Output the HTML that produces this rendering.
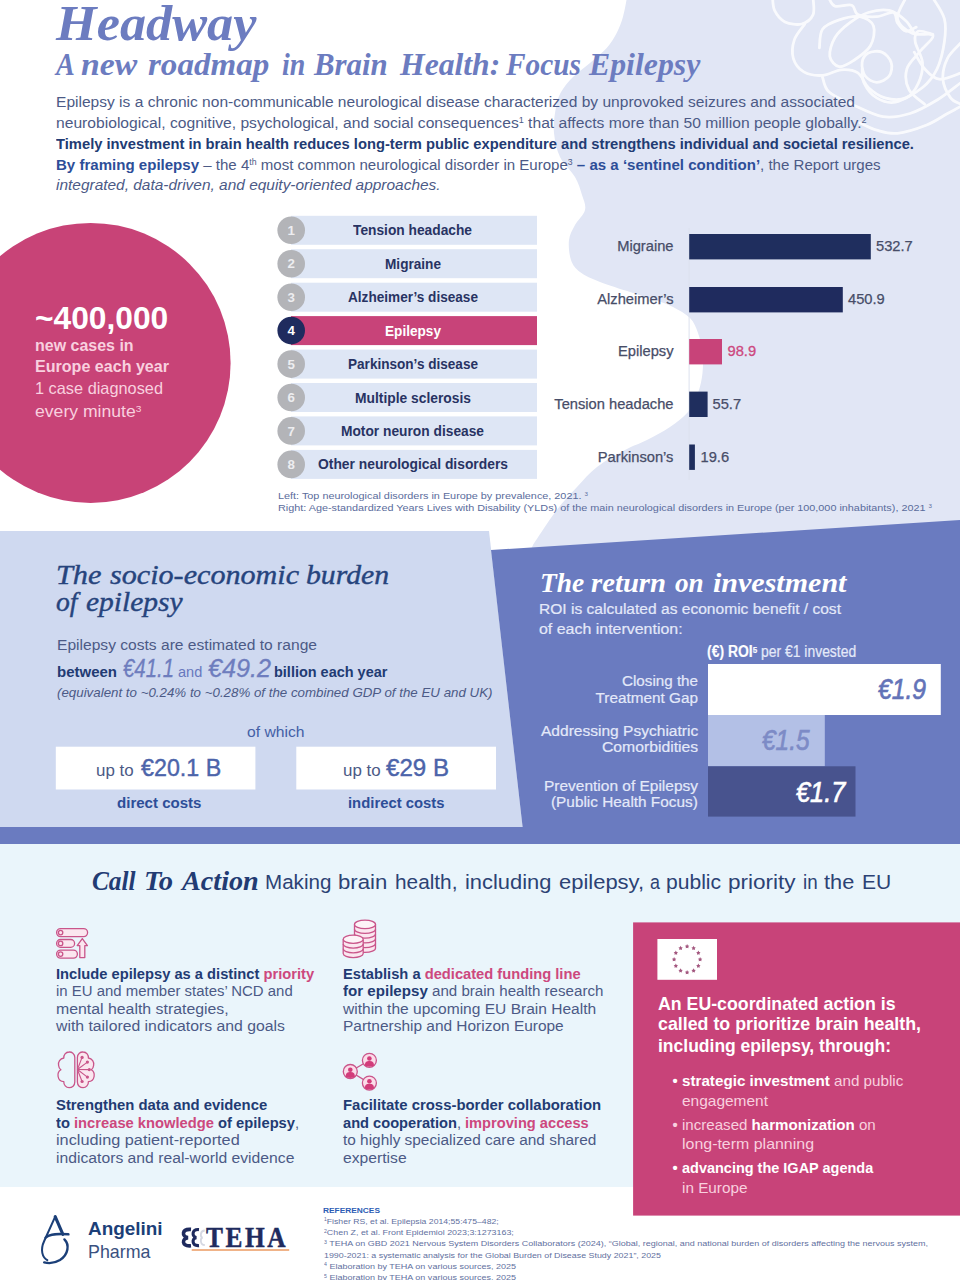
<!DOCTYPE html>
<html lang="en"><head><meta charset="utf-8"><title>Headway - A new roadmap in Brain Health: Focus Epilepsy</title>
<style>
html,body{margin:0;padding:0;background:#fff}
body{width:960px;height:1280px;position:relative;overflow:hidden;font-family:"Liberation Sans",sans-serif;color:#4c5a86}
#bg{position:absolute;left:0;top:0}
.t{position:absolute;white-space:nowrap;line-height:1;transform-origin:0 0;font-family:"Liberation Sans",sans-serif}
.ff{font-family:"Liberation Serif",serif;font-style:italic}
b{font-weight:bold}
.n{color:#223b73}          /* navy bold */
.bl{color:#2d4e98}         /* blue bold */
.p{color:#cd487e}          /* pink */
.w{color:#fff}
.lp{color:#f8d0df}         /* light pink on pink */
.lv{color:#e4e9f9;-webkit-text-stroke:0.2px #e4e9f9}         /* light lavender on blue */
.h{color:#6c7cc0}          /* heading blue */
.m{color:#6878be}
sup{font-size:58%;vertical-align:baseline;position:relative;top:-0.5em;line-height:0}
i{font-style:italic}

.n2{color:#283363}
.g{color:#ededf0}
.cap{color:#5a6c9c}
.ch{color:#474d68;-webkit-text-stroke:0.25px #474d68}
.big{-webkit-text-stroke:0.3px #6e7dbe;color:#6e7dbe}
.big2{color:#4c64aa;-webkit-text-stroke:0.4px #4c64aa}
.bl2{color:#4460a6}
.hs{-webkit-text-stroke:0.4px #26447d;color:#26447d}
.sb2{-webkit-text-stroke:0.3px currentColor}
.sb{-webkit-text-stroke:0.7px currentColor}
.r1{color:#6373b8}
.r2{color:#7d8bc6}
.cta{color:#2c4274}
.ang{color:#1c3f78}
.ang2{color:#3a5180}
.teha{color:#1f2b5e;font-style:normal;letter-spacing:3px;-webkit-text-stroke:0.5px #1f2b5e}
.ref{color:#5f70a0}
.ref.bl{color:#2c5cb4}
</style></head><body>
<svg id="bg" width="960" height="1280" viewBox="0 0 960 1280">
<path d="M627.0,-6.0 C626.9,-5.0 627.2,-3.8 626.5,0.0 C625.8,3.8 624.6,11.2 623.0,16.7 C621.4,22.2 619.4,27.8 616.7,33.0 C614.0,38.2 611.2,43.0 606.7,48.0 C602.2,53.0 595.6,58.2 590.0,63.0 C584.4,67.8 577.9,72.0 573.0,77.0 C568.1,82.0 563.4,87.5 560.5,93.0 C557.6,98.5 556.6,103.3 555.5,110.0 C554.4,116.7 553.2,125.2 554.0,133.0 C554.8,140.8 556.5,149.7 560.0,157.0 C563.5,164.3 571.3,170.7 575.0,177.0 C578.7,183.3 580.3,189.5 582.0,195.0 C583.7,200.5 586.2,205.0 585.0,210.0 C583.8,215.0 577.7,220.0 575.0,225.0 C572.3,230.0 569.7,234.2 569.0,240.0 C568.3,245.8 569.2,254.7 571.0,260.0 C572.8,265.3 575.2,268.3 580.0,272.0 C584.8,275.7 591.7,278.7 600.0,282.0 C608.3,285.3 620.8,289.0 630.0,292.0 C639.2,295.0 647.8,297.5 655.0,300.0 C662.2,302.5 667.2,304.0 673.0,307.0 C678.8,310.0 685.8,313.7 690.0,318.0 C694.2,322.3 695.9,327.3 698.0,333.0 C700.1,338.7 701.8,345.3 702.5,352.0 C703.2,358.7 703.2,366.2 702.5,373.0 C701.8,379.8 700.4,386.5 698.0,393.0 C695.6,399.5 692.7,406.3 688.0,412.0 C683.3,417.7 676.8,422.3 670.0,427.0 C663.2,431.7 654.5,436.2 647.0,440.0 C639.5,443.8 633.3,445.5 625.0,450.0 C616.7,454.5 605.0,460.8 597.0,467.0 C589.0,473.2 583.8,479.7 577.0,487.0 C570.2,494.3 563.3,501.3 556.0,511.0 C548.7,520.7 536.8,539.3 533.0,545.0  L528,556 L960,556 L960,-6 Z" fill="#e1e6f5"/>
<g fill="none" stroke="#fff" stroke-width="2.8" stroke-linecap="round" opacity="0.82"><path d="M772.5,-4.2 C772.8,-1.7 772.5,6.1 774.6,10.4 C776.7,14.8 780.5,19.6 785.0,21.9 C789.5,24.1 797.0,25.2 801.7,24.0 C806.4,22.7 811.2,18.9 813.1,14.6 C815.0,10.2 813.1,0.7 813.1,-2.1 "/><path d="M804.8,24.0 C803.1,26.6 796.3,33.9 794.4,39.6 C792.5,45.3 791.8,53.0 793.3,58.3 C794.9,63.7 798.9,69.0 803.8,71.9 C808.6,74.7 816.2,75.8 822.5,75.4 C828.8,75.1 835.3,70.2 841.2,69.8 C847.2,69.4 853.4,70.0 857.9,72.9 C862.4,75.9 863.8,83.3 868.3,87.5 C872.8,91.7 878.8,96.2 885.0,97.9 C891.2,99.7 900.3,100.3 905.8,97.9 C911.4,95.5 915.6,89.2 918.3,83.3 C921.1,77.4 923.0,69.4 922.5,62.5 C922.0,55.6 915.9,46.9 915.2,41.7 C914.5,36.5 915.4,32.5 918.3,31.2 C921.3,30.0 930.5,33.9 932.9,34.4 "/><path d="M819.4,47.9 C819.9,44.8 819.2,33.9 822.5,29.2 C825.8,24.5 832.9,21.9 839.2,19.8 C845.4,17.7 854.3,15.6 860.0,16.7 C865.7,17.7 871.8,21.2 873.5,26.0 C875.3,30.9 873.7,40.1 870.4,45.8 C867.1,51.6 859.0,56.9 853.8,60.4 C848.5,63.9 843.2,67.4 839.2,66.7 C835.2,66.0 830.5,61.1 829.8,56.2 C829.1,51.4 831.7,43.1 835.0,37.5 C838.3,31.9 844.0,27.1 849.6,22.9 C855.1,18.8 861.7,14.6 868.3,12.5 C874.9,10.4 882.9,9.0 889.2,10.4 C895.4,11.8 901.7,17.0 905.8,20.8 C910.0,24.7 912.8,31.3 914.2,33.3 "/><path d="M862.1,62.5 C862.6,58.7 865.0,54.9 868.3,53.1 C871.6,51.4 878.1,50.5 881.9,52.1 C885.7,53.6 890.0,58.5 891.2,62.5 C892.5,66.5 891.6,72.7 889.2,76.0 C886.7,79.3 880.7,82.3 876.7,82.3 C872.7,82.3 867.6,79.3 865.2,76.0 C862.8,72.7 861.6,66.3 862.1,62.5 "/><path d="M822.5,77.1 C823.5,79.5 823.9,87.2 828.8,91.7 C833.6,96.2 842.6,100.0 851.7,104.2 C860.7,108.3 873.2,115.1 882.9,116.7 C892.6,118.2 901.0,116.3 910.0,113.5 C919.0,110.8 928.8,105.0 937.1,100.0 C945.4,95.0 956.2,86.1 960.0,83.3 "/><path d="M860.0,122.9 C862.8,124.1 870.4,128.5 876.7,130.2 C882.9,131.9 889.2,134.2 897.5,133.3 C905.8,132.5 918.3,128.3 926.7,125.0 C935.0,121.7 941.8,116.7 947.5,113.5 C953.2,110.4 958.8,107.5 961.0,106.2 "/><path d="M905.8,-2.1 C904.4,1.4 896.5,12.8 897.5,18.8 C898.5,24.7 906.2,30.6 912.1,33.3 C918.0,36.1 931.5,32.5 932.9,35.4 C934.3,38.4 924.8,45.5 920.4,51.0 C916.1,56.6 908.8,62.3 906.9,68.8 C905.0,75.2 906.0,83.7 909.0,89.6 C911.9,95.5 922.0,101.7 924.6,104.2 "/><path d="M932.9,-2.1 C934.8,1.4 942.5,11.5 944.4,18.8 C946.3,26.0 945.6,33.3 944.4,41.7 C943.2,50.0 940.7,61.1 937.1,68.8 C933.4,76.4 929.4,81.9 922.5,87.5 C915.6,93.1 903.1,100.3 895.4,102.1 C887.8,103.8 881.9,101.0 876.7,97.9 C871.5,94.8 866.6,88.2 864.2,83.3 C861.7,78.5 862.4,71.2 862.1,68.8 "/><path d="M961.0,42.7 C958.8,45.3 950.5,52.3 947.5,58.3 C944.5,64.4 942.4,72.6 942.9,79.2 C943.4,85.8 947.6,93.8 950.6,97.9 C953.6,102.1 959.3,103.1 961.0,104.2 "/><path d="M828.8,-2.1 C829.8,-0.7 831.2,5.0 835.0,6.2 C838.8,7.5 847.8,3.8 851.7,5.2 C855.5,6.6 853.8,12.7 857.9,14.6 C862.1,16.5 870.8,17.0 876.7,16.7 C882.6,16.3 889.9,11.5 893.3,12.5 C896.8,13.5 895.4,19.8 897.5,22.9 C899.6,26.0 902.7,30.6 905.8,31.2 C909.0,31.9 914.5,27.8 916.2,27.1 "/><path d="M914.2,52.1 C915.9,54.9 920.4,64.2 924.6,68.8 C928.8,73.3 933.1,78.5 939.2,79.2 C945.2,79.9 957.4,74.0 961.0,72.9 "/></g>
<polygon points="0,531 489,531 522.6,827 0,827" fill="#cfd9f0"/>
<polygon points="491,550 960,520 960,844 0,844 0,827 522.6,827" fill="#6a7bc0"/>
<rect x="0" y="844" width="960" height="343" fill="#eaf5fb"/>
<circle cx="90.6" cy="362.9" r="140" fill="#c84377"/>
<rect x="291" y="215.8" width="246" height="29" fill="#dee6f5"/><circle cx="291.2" cy="230.3" r="13.8" fill="#b3b4b8"/><rect x="291" y="249.2" width="246" height="29" fill="#dee6f5"/><circle cx="291.2" cy="263.7" r="13.8" fill="#b3b4b8"/><rect x="291" y="282.7" width="246" height="29" fill="#dee6f5"/><circle cx="291.2" cy="297.2" r="13.8" fill="#b3b4b8"/><rect x="291" y="316.1" width="246" height="29" fill="#c84379"/><circle cx="291.2" cy="330.6" r="13.8" fill="#1f2b5e"/><rect x="291" y="349.6" width="246" height="29" fill="#dee6f5"/><circle cx="291.2" cy="364.1" r="13.8" fill="#b3b4b8"/><rect x="291" y="383.0" width="246" height="29" fill="#dee6f5"/><circle cx="291.2" cy="397.5" r="13.8" fill="#b3b4b8"/><rect x="291" y="416.4" width="246" height="29" fill="#dee6f5"/><circle cx="291.2" cy="430.9" r="13.8" fill="#b3b4b8"/><rect x="291" y="449.9" width="246" height="29" fill="#dee6f5"/><circle cx="291.2" cy="464.4" r="13.8" fill="#b3b4b8"/>
<rect x="688.6" y="228" width="1" height="252" fill="#dde1ee"/><rect x="689.2" y="234" width="181.6" height="25.4" fill="#1f2e5e"/><rect x="689.2" y="287" width="153.6" height="25.4" fill="#1f2b5e"/><rect x="689.2" y="339" width="32.8" height="25.4" fill="#c84379"/><rect x="689.2" y="391.6" width="18.4" height="25.4" fill="#1f2e5e"/><rect x="689.2" y="444.5" width="5.7" height="25.4" fill="#1f2e5e"/>
<rect x="55.8" y="746.7" width="199.6" height="42.8" fill="#fff"/>
<rect x="296.3" y="746.7" width="199.7" height="42.8" fill="#fff"/>
<rect x="708" y="664" width="232.8" height="51" fill="#fff"/>
<rect x="708" y="715" width="116.8" height="51.3" fill="#b3c0e6"/>
<rect x="708" y="766.3" width="147.5" height="50.3" fill="#48538e"/>
<rect x="633.1" y="922.4" width="326.9" height="293.2" fill="#c84379"/>
<rect x="657.4" y="939" width="59.6" height="40.8" fill="#fff"/>
<g fill="#fbe6ef" stroke="#c9558a" stroke-width="1.3" stroke-linejoin="round"><rect x="56.6" y="928.6" width="31" height="8" rx="4"/><rect x="56.6" y="939.5" width="18" height="7.8" rx="3.9"/><rect x="56.6" y="950.1" width="20.8" height="8" rx="4"/><circle cx="60.6" cy="932.6" r="2.2" fill="none"/><circle cx="60.6" cy="943.4" r="2.2" fill="none"/><circle cx="60.6" cy="954.1" r="2.2" fill="none"/><path d="M82.3,938.6 L87.4,945.6 L84.8,945.6 L84.8,957.6 L79.8,957.6 L79.8,945.6 L77.2,945.6 Z"/></g><g fill="#fbe6ef" stroke="#c9558a" stroke-width="1.3"><path d="M354.5,924.4 L354.5,948.25 A10.5,4.2 0 0 0 375.5,948.25 L375.5,924.4"/><path d="M354.5,929.17 A10.5,4.2 0 0 0 375.5,929.17" fill="none"/><path d="M354.5,933.9399999999999 A10.5,4.2 0 0 0 375.5,933.9399999999999" fill="none"/><path d="M354.5,938.7099999999999 A10.5,4.2 0 0 0 375.5,938.7099999999999" fill="none"/><path d="M354.5,943.48 A10.5,4.2 0 0 0 375.5,943.48" fill="none"/><ellipse cx="365.0" cy="924.4" rx="10.5" ry="4.2" fill="#fdf3f7"/><path d="M343.2,939.2 L343.2,953.51 A10.0,4.1 0 0 0 363.2,953.51 L363.2,939.2"/><path d="M343.2,943.97 A10.0,4.1 0 0 0 363.2,943.97" fill="none"/><path d="M343.2,948.74 A10.0,4.1 0 0 0 363.2,948.74" fill="none"/><ellipse cx="353.2" cy="939.2" rx="10.0" ry="4.1" fill="#fdf3f7"/></g><g fill="none" stroke="#c9558a" stroke-width="1.3" stroke-linejoin="round"><path d="M74.8,1057.5 C74.8,1053.5 71.6,1051.8 69.1,1052 C65.6,1052 63.599999999999994,1055 63.8,1058 C60.099999999999994,1058.5 57.8,1062 58.599999999999994,1065.5 C58.8,1067.5 59.8,1069 60.89999999999999,1069.8 C58.8,1071 57.599999999999994,1073.5 58.099999999999994,1076.5 C58.599999999999994,1079.5 61.099999999999994,1081.5 63.8,1081.6 C63.599999999999994,1085 66.1,1087.7 69.1,1087.7 C72.1,1087.7 74.8,1085.5 74.8,1082 Z" fill="none"/><path d="M77.39999999999999,1057.5 C77.39999999999999,1053.5 80.6,1051.8 83.1,1052 C86.6,1052 88.6,1055 88.39999999999999,1058 C92.1,1058.5 94.39999999999999,1062 93.6,1065.5 C93.39999999999999,1067.5 92.39999999999999,1069 91.3,1069.8 C93.39999999999999,1071 94.6,1073.5 94.1,1076.5 C93.6,1079.5 91.1,1081.5 88.39999999999999,1081.6 C88.6,1085 86.1,1087.7 83.1,1087.7 C80.1,1087.7 77.39999999999999,1085.5 77.39999999999999,1082 Z" fill="#fbe6ef"/><path d="M77.4,1069.5 L82.1,1057.4" stroke-width="1.1"/><path d="M77.4,1069.5 L87.4,1062.1" stroke-width="1.1"/><path d="M77.4,1069.5 L89.3,1069.6" stroke-width="1.1"/><path d="M77.4,1069.5 L87.4,1077.1" stroke-width="1.1"/><path d="M77.4,1069.5 L82.1,1081.5" stroke-width="1.1"/></g><g fill="#c9558a"><circle cx="82.1" cy="1057.4" r="1.6"/><circle cx="87.4" cy="1062.1" r="1.6"/><circle cx="89.3" cy="1069.6" r="1.6"/><circle cx="87.4" cy="1077.1" r="1.6"/><circle cx="82.1" cy="1081.5" r="1.6"/></g><g stroke="#c9558a" stroke-width="1.3" fill="none"><path d="M350.3,1071.5 L369.4,1060.3 M350.3,1071.5 L369.4,1083.1"/></g><circle cx="369.4" cy="1060.3" r="7" fill="#fbdce9" stroke="#c9558a" stroke-width="1.3"/><circle cx="369.4" cy="1058.5" r="2.3" fill="#d23c7a"/><path d="M364.79999999999995,1065.5 C364.79999999999995,1061.3 367.4,1060.8999999999999 369.4,1060.8999999999999 C371.4,1060.8999999999999 374.0,1061.3 374.0,1065.5 C371.9,1067.1 366.9,1067.1 364.79999999999995,1065.5 Z" fill="#d23c7a"/><circle cx="350.3" cy="1071.5" r="7" fill="#fbdce9" stroke="#c9558a" stroke-width="1.3"/><circle cx="350.3" cy="1069.7" r="2.3" fill="#d23c7a"/><path d="M345.7,1076.7 C345.7,1072.5 348.3,1072.1 350.3,1072.1 C352.3,1072.1 354.90000000000003,1072.5 354.90000000000003,1076.7 C352.8,1078.3 347.8,1078.3 345.7,1076.7 Z" fill="#d23c7a"/><circle cx="369.4" cy="1083.1" r="7" fill="#fbdce9" stroke="#c9558a" stroke-width="1.3"/><circle cx="369.4" cy="1081.3" r="2.3" fill="#d23c7a"/><path d="M364.79999999999995,1088.3 C364.79999999999995,1084.1 367.4,1083.6999999999998 369.4,1083.6999999999998 C371.4,1083.6999999999998 374.0,1084.1 374.0,1088.3 C371.9,1089.8999999999999 366.9,1089.8999999999999 364.79999999999995,1088.3 Z" fill="#d23c7a"/><g fill="#a3577f"><polygon points="687.10,944.10 687.83,945.39 689.29,945.69 688.29,946.79 688.45,948.26 687.10,947.65 685.75,948.26 685.91,946.79 684.91,945.69 686.37,945.39"/><polygon points="693.60,945.84 694.33,947.13 695.79,947.43 694.79,948.53 694.95,950.00 693.60,949.39 692.25,950.00 692.41,948.53 691.41,947.43 692.87,947.13"/><polygon points="698.36,950.60 699.09,951.89 700.55,952.19 699.55,953.29 699.71,954.76 698.36,954.15 697.01,954.76 697.17,953.29 696.17,952.19 697.62,951.89"/><polygon points="700.10,957.10 700.83,958.39 702.29,958.69 701.29,959.79 701.45,961.26 700.10,960.65 698.75,961.26 698.91,959.79 697.91,958.69 699.37,958.39"/><polygon points="698.36,963.60 699.09,964.89 700.55,965.19 699.55,966.29 699.71,967.76 698.36,967.15 697.01,967.76 697.17,966.29 696.17,965.19 697.62,964.89"/><polygon points="693.60,968.36 694.33,969.65 695.79,969.95 694.79,971.04 694.95,972.52 693.60,971.91 692.25,972.52 692.41,971.04 691.41,969.95 692.87,969.65"/><polygon points="687.10,970.10 687.83,971.39 689.29,971.69 688.29,972.79 688.45,974.26 687.10,973.65 685.75,974.26 685.91,972.79 684.91,971.69 686.37,971.39"/><polygon points="680.60,968.36 681.33,969.65 682.79,969.95 681.79,971.04 681.95,972.52 680.60,971.91 679.25,972.52 679.41,971.04 678.41,969.95 679.87,969.65"/><polygon points="675.84,963.60 676.58,964.89 678.03,965.19 677.03,966.29 677.19,967.76 675.84,967.15 674.49,967.76 674.65,966.29 673.65,965.19 675.11,964.89"/><polygon points="674.10,957.10 674.83,958.39 676.29,958.69 675.29,959.79 675.45,961.26 674.10,960.65 672.75,961.26 672.91,959.79 671.91,958.69 673.37,958.39"/><polygon points="675.84,950.60 676.58,951.89 678.03,952.19 677.03,953.29 677.19,954.76 675.84,954.15 674.49,954.76 674.65,953.29 673.65,952.19 675.11,951.89"/><polygon points="680.60,945.84 681.33,947.13 682.79,947.43 681.79,948.53 681.95,950.00 680.60,949.39 679.25,950.00 679.41,948.53 678.41,947.43 679.87,947.13"/></g><g fill="none" stroke="#1b3f78" stroke-linecap="round" stroke-linejoin="round"><path d="M55.2,1216.6 L62.9,1234.4" stroke-width="3.1"/><path d="M55.2,1216.6 L44.2,1241 C40,1250 42.3,1257.3 47.3,1260.2" stroke-width="2"/><path d="M45.6,1237.6 C50.5,1233.6 58,1233.6 68.4,1234.3" stroke-width="2.5"/><path d="M64.4,1239.4 C69.6,1244.5 68.6,1254.5 60,1260 C54.5,1263.3 48.5,1263.6 44.2,1262.4" stroke-width="2.4"/></g><g fill="none" stroke="#1f2b5e" stroke-linecap="butt"><path d="M191,1229.4 C181.5,1228.6 181.5,1236.8 188,1237.6 C181.5,1238.4 181.5,1246.6 191,1245.8" stroke-width="3.6"/><path d="M199,1229.6 C191.6,1229 191.6,1236.9 196.4,1237.6 C191.6,1238.3 191.6,1246.2 199,1245.6" stroke-width="3.1"/><path d="M204.8,1230.5 C200,1230.5 200,1237 202.6,1237.6 C200,1238.2 200,1245 204.8,1245" stroke="#d5d8e2" stroke-width="1.8"/></g><rect x="191.7" y="1249.1" width="97.5" height="1.8" fill="#efab7c"/>
</svg>
<div class="t ff h" style="left:56.3px;top:-2.1px;font-size:50px;transform:scaleX(1.0462);"><b>Headway</b></div>
<div class="t ff h" style="left:55.6px;top:47.9px;font-size:32px;transform:scaleX(0.8799);"><b>A</b></div>
<div class="t ff h" style="left:80.6px;top:47.9px;font-size:32px;transform:scaleX(1.0550);"><b>new</b></div>
<div class="t ff h" style="left:148.1px;top:47.9px;font-size:32px;transform:scaleX(1.0335);"><b>roadmap</b></div>
<div class="t ff h" style="left:281.9px;top:47.9px;font-size:32px;transform:scaleX(0.8723);"><b>in</b></div>
<div class="t ff h" style="left:314.4px;top:47.9px;font-size:32px;transform:scaleX(0.9646);"><b>Brain</b></div>
<div class="t ff h" style="left:400.4px;top:47.9px;font-size:32px;transform:scaleX(0.9897);"><b>Health:</b></div>
<div class="t ff h" style="left:505.6px;top:47.9px;font-size:32px;transform:scaleX(0.9173);"><b>Focus</b></div>
<div class="t ff h" style="left:589.4px;top:47.9px;font-size:32px;transform:scaleX(0.9937);"><b>Epilepsy</b></div>
<div class="t  " style="left:56.1px;top:94.3px;font-size:15.3px;transform:scaleX(1.0169);">Epilepsy is a chronic non-communicable neurological disease characterized by unprovoked seizures and associated</div>
<div class="t  " style="left:56.1px;top:114.9px;font-size:15.3px;transform:scaleX(1.0228);">neurobiological, cognitive, psychological, and social consequences<sup>1</sup> that affects more than 50 million people globally.<sup>2</sup></div>
<div class="t  " style="left:56.1px;top:136.1px;font-size:15.3px;transform:scaleX(0.9634);"><b class="n">Timely investment in brain health reduces long-term public expenditure and strengthens individual and societal resilience.</b></div>
<div class="t  " style="left:56.1px;top:156.9px;font-size:15.3px;transform:scaleX(0.9841);"><b class="bl">By framing epilepsy</b> – the 4<sup>th</sup> most common neurological disorder in Europe<sup>3</sup> <b class="bl">– as a ‘sentinel condition’</b>, the Report urges</div>
<div class="t  " style="left:56.1px;top:177.3px;font-size:15.3px;transform:scaleX(1.0095);"><i>integrated, data-driven, and equity-oriented approaches.</i></div>
<div class="t  w" style="left:35.4px;top:303.3px;font-size:31.5px;transform:scaleX(1.0071);"><b>~400,000</b></div>
<div class="t  lp" style="left:35.0px;top:336.8px;font-size:16.5px;transform:scaleX(0.9684);"><b>new cases in</b></div>
<div class="t  lp" style="left:35.0px;top:358.3px;font-size:16.5px;transform:scaleX(0.9740);"><b>Europe each year</b></div>
<div class="t  lp" style="left:35.0px;top:380.3px;font-size:16.5px;transform:scaleX(0.9895);">1 case diagnosed</div>
<div class="t  lp" style="left:35.0px;top:403.0px;font-size:16.5px;transform:scaleX(1.0672);">every minute<sup>3</sup></div>
<div class="t  n2" style="left:353.3px;top:223.3px;font-size:14.8px;transform:scaleX(0.9297);"><b>Tension headache</b></div>
<div class="t  g" style="left:287.5px;top:223.8px;font-size:13.3px;"><b>1</b></div>
<div class="t  n2" style="left:384.8px;top:256.8px;font-size:14.8px;transform:scaleX(0.9204);"><b>Migraine</b></div>
<div class="t  g" style="left:287.5px;top:257.3px;font-size:13.3px;"><b>2</b></div>
<div class="t  n2" style="left:347.8px;top:290.2px;font-size:14.8px;transform:scaleX(0.9189);"><b>Alzheimer’s disease</b></div>
<div class="t  g" style="left:287.5px;top:290.7px;font-size:13.3px;"><b>3</b></div>
<div class="t  w" style="left:384.8px;top:323.7px;font-size:14.8px;transform:scaleX(0.9202);"><b>Epilepsy</b></div>
<div class="t  w" style="left:287.5px;top:324.1px;font-size:13.3px;"><b>4</b></div>
<div class="t  n2" style="left:347.8px;top:357.1px;font-size:14.8px;transform:scaleX(0.9171);"><b>Parkinson’s disease</b></div>
<div class="t  g" style="left:287.5px;top:357.6px;font-size:13.3px;"><b>5</b></div>
<div class="t  n2" style="left:354.8px;top:390.5px;font-size:14.8px;transform:scaleX(0.9342);"><b>Multiple sclerosis</b></div>
<div class="t  g" style="left:287.5px;top:391.0px;font-size:13.3px;"><b>6</b></div>
<div class="t  n2" style="left:341.3px;top:424.0px;font-size:14.8px;transform:scaleX(0.9301);"><b>Motor neuron disease</b></div>
<div class="t  g" style="left:287.5px;top:424.5px;font-size:13.3px;"><b>7</b></div>
<div class="t  n2" style="left:317.8px;top:457.4px;font-size:14.8px;transform:scaleX(0.9355);"><b>Other neurological disorders</b></div>
<div class="t  g" style="left:287.5px;top:457.9px;font-size:13.3px;"><b>8</b></div>
<div class="t  cap" style="left:278.0px;top:491.6px;font-size:9.3px;transform:scaleX(1.1658);">Left: Top neurological disorders in Europe by prevalence, 2021. <sup>3</sup></div>
<div class="t  cap" style="left:278.0px;top:504.0px;font-size:9.3px;transform:scaleX(1.1644);">Right: Age-standardized Years Lives with Disability (YLDs) of the main neurological disorders in Europe (per 100,000 inhabitants), 2021 <sup>3</sup></div>
<div class="t  ch" style="left:617.2px;top:239.4px;font-size:14.7px;">Migraine</div>
<div class="t  ch" style="left:876.0px;top:239.4px;font-size:14.7px;">532.7</div>
<div class="t  ch" style="left:597.3px;top:292.4px;font-size:14.7px;">Alzheimer’s</div>
<div class="t  ch" style="left:848.0px;top:292.4px;font-size:14.7px;">450.9</div>
<div class="t  ch" style="left:618.0px;top:344.4px;font-size:14.7px;">Epilepsy</div>
<div class="t  p sb2" style="left:727.5px;top:344.4px;font-size:14.7px;">98.9</div>
<div class="t  ch" style="left:554.3px;top:397.2px;font-size:14.7px;">Tension headache</div>
<div class="t  ch" style="left:712.5px;top:397.2px;font-size:14.7px;">55.7</div>
<div class="t  ch" style="left:597.8px;top:449.9px;font-size:14.7px;">Parkinson’s</div>
<div class="t  ch" style="left:700.5px;top:449.9px;font-size:14.7px;">19.6</div>
<div class="t ff n hs" style="left:56.1px;top:560.6px;font-size:27.5px;transform:scaleX(1.1030);">The</div>
<div class="t ff n hs" style="left:109.5px;top:560.6px;font-size:27.5px;transform:scaleX(1.0957);">socio-economic</div>
<div class="t ff n hs" style="left:306.4px;top:560.6px;font-size:27.5px;transform:scaleX(1.0808);">burden</div>
<div class="t ff n hs" style="left:56.1px;top:588.0px;font-size:27.5px;transform:scaleX(1.0051);">of</div>
<div class="t ff n hs" style="left:86.0px;top:588.0px;font-size:27.5px;transform:scaleX(1.0720);">epilepsy</div>
<div class="t  " style="left:57.0px;top:637.0px;font-size:15.3px;transform:scaleX(1.0192);">Epilepsy costs are estimated to range</div>
<div class="t  " style="left:57.0px;top:663.8px;font-size:15.3px;transform:scaleX(0.9803);"><b class="n">between</b></div>
<div class="t  big" style="left:123.4px;top:656.0px;font-size:25px;transform:scaleX(0.8152);"><i>€41.1</i></div>
<div class="t  m" style="left:178.0px;top:663.8px;font-size:15.3px;transform:scaleX(0.9518);">and</div>
<div class="t  big" style="left:207.8px;top:656.0px;font-size:25px;transform:scaleX(1.0070);"><i>€49.2</i></div>
<div class="t  " style="left:274.3px;top:663.8px;font-size:15.3px;transform:scaleX(0.9460);"><b class="n">billion each year</b></div>
<div class="t  " style="left:57.0px;top:687.3px;font-size:12.6px;transform:scaleX(1.0574);"><i>(equivalent to ~0.24% to ~0.28% of the combined GDP of the EU and UK)</i></div>
<div class="t  bl2" style="left:247.2px;top:724.2px;font-size:15.3px;transform:scaleX(1.0245);">of which</div>
<div class="t  " style="left:95.6px;top:763.4px;font-size:15.8px;transform:scaleX(1.0700);">up to</div>
<div class="t  big2" style="left:140.6px;top:757.1px;font-size:23.2px;transform:scaleX(1.0033);">€20.1 B</div>
<div class="t  " style="left:342.5px;top:763.4px;font-size:15.8px;transform:scaleX(1.0700);">up to</div>
<div class="t  big2" style="left:385.6px;top:757.1px;font-size:23.2px;transform:scaleX(1.0394);">€29 B</div>
<div class="t  bl" style="left:116.5px;top:794.5px;font-size:15.3px;transform:scaleX(0.9840);"><b>direct costs</b></div>
<div class="t  bl" style="left:347.5px;top:794.5px;font-size:15.3px;transform:scaleX(0.9702);"><b>indirect costs</b></div>
<div class="t ff w" style="left:539.7px;top:568.6px;font-size:28px;transform:scaleX(0.9781);"><b>The</b></div>
<div class="t ff w" style="left:591.3px;top:568.6px;font-size:28px;transform:scaleX(1.0255);"><b>return</b></div>
<div class="t ff w" style="left:675.4px;top:568.6px;font-size:28px;transform:scaleX(0.9710);"><b>on</b></div>
<div class="t ff w" style="left:713.4px;top:568.6px;font-size:28px;transform:scaleX(1.0721);"><b>investment</b></div>
<div class="t  lv" style="left:539.2px;top:600.6px;font-size:15.3px;transform:scaleX(1.0177);">ROI is calculated as economic benefit / cost</div>
<div class="t  lv" style="left:539.2px;top:620.8px;font-size:15.3px;transform:scaleX(1.0424);">of each intervention:</div>
<div class="t  lv" style="left:706.6px;top:644.3px;font-size:15.6px;transform:scaleX(0.8927);"><b class="w">(€) ROI<sup>5</sup></b> per €1 invested</div>
<div class="t  lv" style="left:621.8px;top:673.4px;font-size:15.3px;transform:scaleX(0.9931);">Closing the</div>
<div class="t  lv" style="left:595.6px;top:689.6px;font-size:15.3px;">Treatment Gap</div>
<div class="t  lv" style="left:540.6px;top:722.6px;font-size:15.3px;transform:scaleX(1.0159);">Addressing Psychiatric</div>
<div class="t  lv" style="left:601.6px;top:739.0px;font-size:15.3px;transform:scaleX(1.0287);">Comorbidities</div>
<div class="t  lv" style="left:543.8px;top:777.6px;font-size:15.3px;transform:scaleX(1.0117);">Prevention of Epilepsy</div>
<div class="t  lv" style="left:551.0px;top:793.6px;font-size:15.3px;transform:scaleX(1.0039);">(Public Health Focus)</div>
<div class="t  r1 sb" style="left:877.5px;top:675.2px;font-size:29px;transform:scaleX(0.8503);"><i>€1.9</i></div>
<div class="t  r2 sb" style="left:762.3px;top:725.6px;font-size:29px;transform:scaleX(0.8414);"><i>€1.5</i></div>
<div class="t  w sb" style="left:796.0px;top:777.8px;font-size:29px;transform:scaleX(0.8733);"><i>€1.7</i></div>
<div class="t ff n" style="left:91.7px;top:866.5px;font-size:27.5px;transform:scaleX(0.9193);"><b>Call</b></div>
<div class="t ff n" style="left:144.1px;top:866.5px;font-size:27.5px;transform:scaleX(1.0381);"><b>To</b></div>
<div class="t ff n" style="left:182.2px;top:866.5px;font-size:27.5px;transform:scaleX(1.0257);"><b>Action</b></div>
<div class="t  cta" style="left:264.9px;top:872.1px;font-size:20.5px;transform:scaleX(1.0039);">Making</div>
<div class="t  cta" style="left:338.0px;top:872.1px;font-size:20.5px;transform:scaleX(1.0802);">brain</div>
<div class="t  cta" style="left:394.8px;top:872.1px;font-size:20.5px;transform:scaleX(1.0144);">health,</div>
<div class="t  cta" style="left:465.4px;top:872.1px;font-size:20.5px;transform:scaleX(1.0683);">including</div>
<div class="t  cta" style="left:559.2px;top:872.1px;font-size:20.5px;transform:scaleX(1.0713);">epilepsy,</div>
<div class="t  cta" style="left:649.7px;top:872.1px;font-size:20.5px;transform:scaleX(0.8723);">a</div>
<div class="t  cta" style="left:665.6px;top:872.1px;font-size:20.5px;transform:scaleX(1.0278);">public</div>
<div class="t  cta" style="left:728.0px;top:872.1px;font-size:20.5px;transform:scaleX(1.0997);">priority</div>
<div class="t  cta" style="left:803.0px;top:872.1px;font-size:20.5px;transform:scaleX(0.9174);">in</div>
<div class="t  cta" style="left:824.0px;top:872.1px;font-size:20.5px;transform:scaleX(1.0614);">the</div>
<div class="t  cta" style="left:861.6px;top:872.1px;font-size:20.5px;transform:scaleX(1.0269);">EU</div>
<div class="t  " style="left:56.3px;top:966.1px;font-size:15.4px;transform:scaleX(0.9549);"><b class="n">Include epilepsy as a distinct</b> <b class="p">priority</b></div>
<div class="t  " style="left:56.3px;top:983.3px;font-size:15.4px;transform:scaleX(0.9698);">in EU and member states’ NCD and</div>
<div class="t  " style="left:56.3px;top:1000.5px;font-size:15.4px;transform:scaleX(1.0299);">mental health strategies,</div>
<div class="t  " style="left:56.3px;top:1018.3px;font-size:15.4px;transform:scaleX(1.0255);">with tailored indicators and goals</div>
<div class="t  " style="left:343.0px;top:966.1px;font-size:15.4px;transform:scaleX(0.9547);"><b class="n">Establish a</b> <b class="p">dedicated funding line</b></div>
<div class="t  " style="left:343.0px;top:983.3px;font-size:15.4px;transform:scaleX(0.9818);"><b class="n">for epilepsy</b> and brain health research</div>
<div class="t  " style="left:343.0px;top:1000.5px;font-size:15.4px;transform:scaleX(1.0101);">within the upcoming EU Brain Health</div>
<div class="t  " style="left:343.0px;top:1018.3px;font-size:15.4px;transform:scaleX(1.0038);">Partnership and Horizon Europe</div>
<div class="t  " style="left:56.3px;top:1097.1px;font-size:15.4px;transform:scaleX(0.9646);"><b class="n">Strengthen data and evidence</b></div>
<div class="t  " style="left:56.3px;top:1114.6px;font-size:15.4px;transform:scaleX(0.9569);"><b class="n">to</b> <b class="p">increase knowledge</b> <b class="n">of epilepsy</b>,</div>
<div class="t  " style="left:56.3px;top:1132.4px;font-size:15.4px;transform:scaleX(1.0576);">including patient-reported</div>
<div class="t  " style="left:56.3px;top:1150.2px;font-size:15.4px;transform:scaleX(1.0207);">indicators and real-world evidence</div>
<div class="t  " style="left:343.0px;top:1097.1px;font-size:15.4px;transform:scaleX(0.9676);"><b class="n">Facilitate cross-border collaboration</b></div>
<div class="t  " style="left:343.0px;top:1114.6px;font-size:15.4px;transform:scaleX(0.9512);"><b class="n">and cooperation</b>, <b class="p">improving access</b></div>
<div class="t  " style="left:343.0px;top:1132.4px;font-size:15.4px;">to highly specialized care and shared</div>
<div class="t  " style="left:343.0px;top:1150.2px;font-size:15.4px;transform:scaleX(1.0184);">expertise</div>
<div class="t  w" style="left:658.0px;top:993.7px;font-size:19px;transform:scaleX(0.9335);"><b>An EU-coordinated action is</b></div>
<div class="t  w" style="left:658.0px;top:1014.2px;font-size:19px;transform:scaleX(0.9365);"><b>called to prioritize brain health,</b></div>
<div class="t  w" style="left:658.0px;top:1035.5px;font-size:19px;transform:scaleX(0.9210);"><b>including epilepsy, through:</b></div>
<div class="t  w" style="left:672.5px;top:1074.4px;font-size:14.8px;"><b>•</b></div>
<div class="t  lp" style="left:682.0px;top:1074.4px;font-size:14.8px;transform:scaleX(1.0269);"><b class="w">strategic investment</b> and public</div>
<div class="t  lp" style="left:682.0px;top:1094.0px;font-size:14.8px;transform:scaleX(1.0452);">engagement</div>
<div class="t  lp" style="left:672.5px;top:1117.6px;font-size:14.8px;"><b>•</b></div>
<div class="t  lp" style="left:682.0px;top:1117.6px;font-size:14.8px;transform:scaleX(1.0196);">increased <b class="w">harmonization</b> on</div>
<div class="t  lp" style="left:682.0px;top:1137.2px;font-size:14.8px;transform:scaleX(1.0770);">long-term planning</div>
<div class="t  w" style="left:672.5px;top:1161.1px;font-size:14.8px;"><b>•</b></div>
<div class="t  lp" style="left:682.0px;top:1161.1px;font-size:14.8px;transform:scaleX(0.9783);"><b class="w">advancing the IGAP agenda</b></div>
<div class="t  lp" style="left:682.0px;top:1180.6px;font-size:14.8px;transform:scaleX(1.0340);">in Europe</div>
<div class="t  ang" style="left:87.6px;top:1219.9px;font-size:18.8px;transform:scaleX(1.0068);"><b>Angelini</b></div>
<div class="t  ang2" style="left:87.8px;top:1243.9px;font-size:17.8px;transform:scaleX(1.0022);">Pharma</div>
<div class="t ff teha" style="left:206.0px;top:1222.2px;font-size:30px;transform:scaleX(0.8451);"><b>TEHA</b></div>
<div class="t  ref bl" style="left:322.5px;top:1206.5px;font-size:8.1px;transform:scaleX(1.0302);"><b>REFERENCES</b></div>
<div class="t  ref" style="left:323.7px;top:1217.8px;font-size:8.1px;transform:scaleX(1.0701);"><sup>1</sup>Fisher RS, et al. Epilepsia 2014;55:475–482;</div>
<div class="t  ref" style="left:323.7px;top:1229.0px;font-size:8.1px;transform:scaleX(1.0962);"><sup>2</sup>Chen Z, et al. Front Epidemiol 2023;3:1273163;</div>
<div class="t  ref" style="left:323.7px;top:1240.3px;font-size:8.1px;transform:scaleX(1.1113);"><sup>3</sup> TEHA on GBD 2021 Nervous System Disorders Collaborators (2024), “Global, regional, and national burden of disorders affecting the nervous system,</div>
<div class="t  ref" style="left:323.7px;top:1251.5px;font-size:8.1px;transform:scaleX(1.0950);">1990-2021: a systematic analysis for the Global Burden of Disease Study 2021”, 2025</div>
<div class="t  ref" style="left:323.7px;top:1262.7px;font-size:8.1px;transform:scaleX(1.1128);"><sup>4</sup> Elaboration by TEHA on various sources, 2025</div>
<div class="t  ref" style="left:323.7px;top:1273.9px;font-size:8.1px;transform:scaleX(1.1128);"><sup>5</sup> Elaboration by TEHA on various sources, 2025</div>
</body></html>
